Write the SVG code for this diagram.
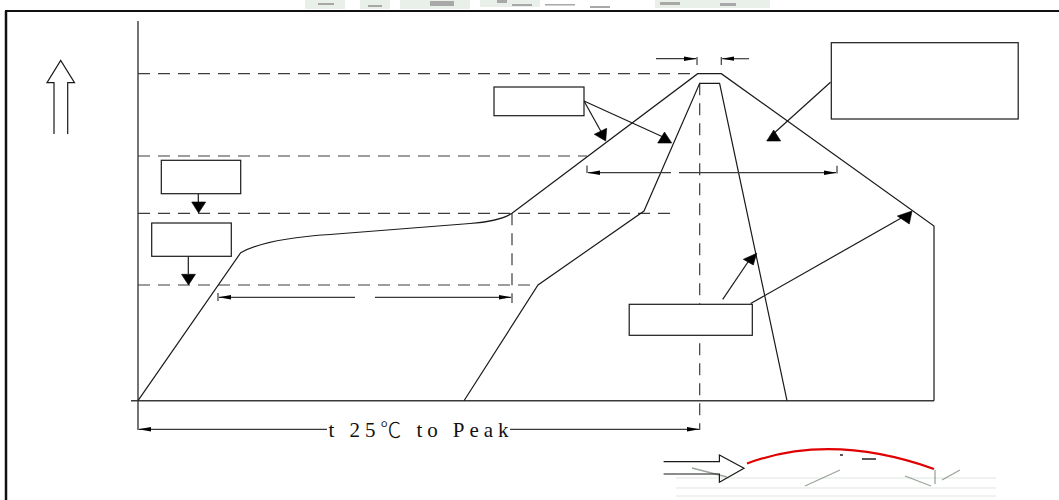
<svg xmlns="http://www.w3.org/2000/svg" width="1059" height="500" viewBox="0 0 1059 500">
<defs>
<style>
.ln{fill:none;stroke:#1a1a1a;stroke-width:1.2}
.ax{fill:none;stroke:#3a3a3a;stroke-width:1.4}
.ds{fill:none;stroke:#3c3c3c;stroke-width:1.2;stroke-dasharray:12 8}
.bx{fill:#fff;stroke:#1a1a1a;stroke-width:1.2}
.hd{fill:#000;stroke:#000;stroke-width:0.6}
.dim{fill:none;stroke:#3a3a3a;stroke-width:1.2}
.lbl{font-family:"Liberation Serif","DejaVu Serif","Noto Sans CJK SC",serif;font-size:21px;fill:#111}
.deg{font-family:"Noto Sans CJK SC","DejaVu Sans",sans-serif;font-weight:300}
.nz{fill:#e9efe9}
.nzd{fill:#a8a8a8}
</style>
<marker id="sa" viewBox="0 -3 13 6" refX="12" refY="0" markerWidth="13" markerHeight="6" markerUnits="userSpaceOnUse" orient="auto-start-reverse">
<path d="M0,-2.2 L12.5,0 L0,2.2 z" fill="#000"/>
</marker>
</defs>
<rect width="1059" height="500" fill="#fff"/>

<g id="artifacts">
<rect class="nz" x="305" y="0" width="40" height="9"/>
<rect class="nzd" x="318" y="3" width="16" height="2"/>
<rect class="nz" x="360" y="0" width="30" height="9"/>
<rect class="nzd" x="368" y="5" width="14" height="2"/>
<rect class="nz" x="400" y="0" width="70" height="9"/>
<rect class="nzd" x="430" y="1" width="24" height="5"/>
<rect class="nz" x="480" y="0" width="60" height="7"/>
<rect class="nzd" x="497" y="0" width="10" height="3"/>
<rect class="nzd" x="512" y="4" width="20" height="2"/>
<rect class="nzd" x="545" y="4" width="30" height="1.5"/>
<rect class="nzd" x="590" y="6" width="20" height="2"/>
<rect class="nz" x="655" y="0" width="115" height="8"/>
<rect class="nzd" x="660" y="2" width="20" height="3"/>
<rect class="nzd" x="720" y="3" width="16" height="3"/>
<path d="M676,478 H996 M676,488 H996 M676,496 H996" stroke="#dfe6df" stroke-width="1" fill="none"/>
<path d="M692,468 l35,9 M805,486 l35,-16 M905,476 l26,10 M960,470 l-18,10 M935,470 v14" stroke="#6f7f6f" stroke-width="1.3" fill="none" opacity="0.7"/>
<path d="M840,455 h3 M862,459 h14" stroke="#222" stroke-width="1.5" fill="none"/>
</g>

<g id="frame">
<path d="M5,11 H1059" stroke="#111" stroke-width="2" fill="none"/>
<path d="M6,11 V500" stroke="#111" stroke-width="2.5" fill="none"/>
</g>

<g id="up-arrow">
<path class="ln" d="M54,134 V82.7 H47 L60.7,60.5 L74.5,82.7 H67.7 V134"/>
</g>

<g id="axes">
<path class="ax" d="M138,21 V430"/>
<path class="ax" d="M131,400.7 H934"/>
</g>

<g id="guides">
<path class="ds" d="M138,73.7 H697.7"/>
<path class="ds" d="M138,156 H587"/>
<path class="ds" d="M138,213.3 H674"/>
<path class="ds" d="M138,285 H538"/>
<path class="ds" d="M512,213.3 V303"/>
<path class="ds" d="M699.7,83.3 V430"/>
</g>

<g id="profiles">
<path class="ln" d="M138,400.7 L240.7,252.7 C260,242 290,237 330,234.5 L470,223.5 C490,222 503,219 512,213.3 L697.7,73.7 L721.3,73.7 L934,226 V400.7"/>
<path class="ln" d="M464,400.7 L538,285 L644,211 L699.7,83.3 L719.6,83.3 L787,400.7"/>
</g>

<g id="dimensions">
<path class="dim" d="M656,58.7 H696" marker-end="url(#sa)"/>
<path class="dim" d="M697,57 V65"/>
<path class="dim" d="M749,58.7 H722.3" marker-end="url(#sa)"/>
<path class="dim" d="M721.3,57 V65"/>
<path class="dim" d="M587,165.5 V173"/>
<path class="dim" d="M671,172.7 H588" marker-end="url(#sa)"/>
<path class="dim" d="M679,172.7 H836" marker-end="url(#sa)"/>
<path class="dim" d="M837,165.7 V173.5"/>
<path class="dim" d="M218,293 V301"/>
<path class="dim" d="M355,297.3 H219" marker-end="url(#sa)"/>
<path class="dim" d="M375,297.3 H511" marker-end="url(#sa)"/>
<path class="dim" d="M327,429.3 H139" marker-end="url(#sa)"/>
<path class="dim" d="M510,429.3 H699" marker-end="url(#sa)"/>
<text class="lbl" x="328.5" y="437" textLength="180" lengthAdjust="spacing">t 25<tspan class="deg">℃</tspan> to Peak</text>
</g>

<g id="connectors">
<path class="ln" d="M198.3,193.7 V202"/>
<polygon class="hd" points="191.7,202 205.7,202 198.6,213"/>
<path class="ln" d="M188.3,256.3 V274"/>
<polygon class="hd" points="181.5,274.3 195.5,274.3 188.5,285"/>
<path class="ln" d="M584,101 L601,131.5"/>
<polygon class="hd" points="594.3,134.3 606.7,128.3 605.7,141"/>
<path class="ln" d="M584,101 L662,136.5"/>
<polygon class="hd" points="657.7,143 671.7,143 664.5,132"/>
<path class="ln" d="M830.5,82.3 L772,135"/>
<polygon class="hd" points="766.7,141 780.7,141 773.7,130"/>
<path class="ln" d="M722.7,299.3 L750,259"/>
<polygon class="hd" points="743.3,259.3 756.7,253.3 753.3,265"/>
<path class="ln" d="M750.7,303.5 L903,217"/>
<polygon class="hd" points="897.3,216 912,211 909.3,224"/>
</g>

<g id="box-1"><rect class="bx" x="161.3" y="160.3" width="79.4" height="33.4"/></g>
<g id="box-2"><rect class="bx" x="151.7" y="223" width="79.6" height="33.3"/></g>
<g id="box-3"><rect class="bx" x="494" y="87" width="90" height="28.7"/></g>
<g id="box-4"><rect class="bx" x="831.3" y="42.7" width="186.9" height="76.3"/></g>
<g id="box-5"><rect class="bx" x="629.2" y="304.3" width="123.1" height="31"/></g>

<g id="bottom-mark">
<path class="ln" d="M663.6,461.7 H719.4 V455 L744,468.3 L719.4,482.3 V474 H663.6"/>
<path d="M747,463.5 Q831.5,432.4 934,469" fill="none" stroke="#e00000" stroke-width="2.2"/>
</g>
</svg>
